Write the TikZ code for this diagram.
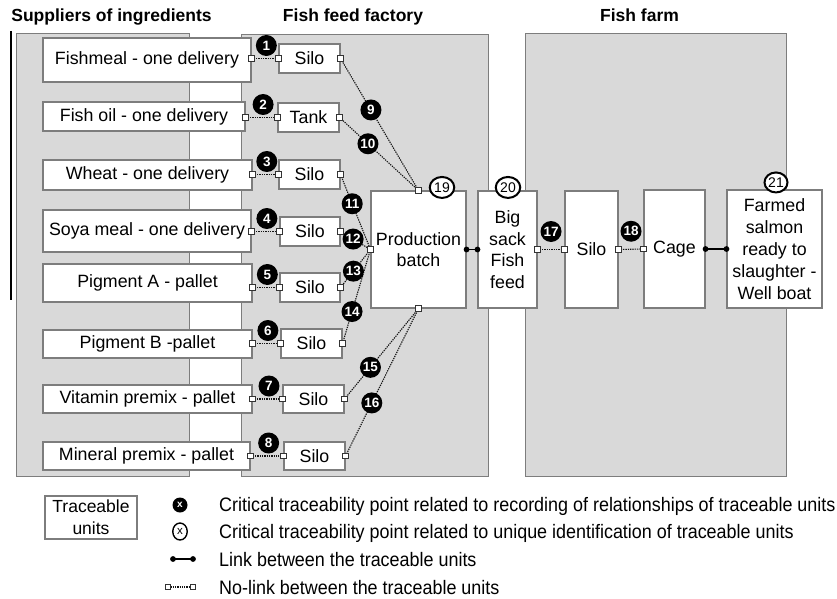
\documentclass[tikz,border=0pt]{standalone}
\usepackage{fontspec}
\setmainfont{Liberation Sans}
\newfontfamily\legendfont{Liberation Sans}[FakeStretch=0.92]
\usetikzlibrary{calc,decorations.markings,shapes.geometric}
\definecolor{panelfill}{RGB}{217,217,217}
\definecolor{edgegray}{RGB}{125,125,125}
\definecolor{dotline}{RGB}{20,20,20}
\tikzset{
  panel/.style={draw=edgegray, line width=0.9pt, fill=panelfill},
  unit/.style={draw=edgegray, line width=1.1pt, fill=white, align=center, inner sep=0pt, font=\fontsize{17.8}{21.5}\selectfont},
  title/.style={font=\bfseries\fontsize{17.5}{20}\selectfont, anchor=base, inner sep=0pt},
  blk/.style={circle, fill=black, text=white, inner sep=0pt, minimum size=21pt, font=\bfseries\fontsize{13.5}{13.5}\selectfont},
  wnum/.style={ellipse, draw=black, line width=2pt, fill=white, inner sep=0pt, minimum width=24.5pt, minimum height=21pt, font=\fontsize{14}{14}\selectfont},
  sqbox/.style={draw=black!80, fill=white, solid, line width=0.8pt},
  nolink/.style={draw=dotline, line width=1.1pt, dash pattern=on 1.3pt off 1pt, decoration={markings,
     mark=at position 0 with {\pgftransformresetnontranslations\draw[sqbox] (-2.7pt,-2.7pt) rectangle (2.7pt,2.7pt);},
     mark=at position 1 with {\pgftransformresetnontranslations\draw[sqbox] (-2.7pt,-2.7pt) rectangle (2.7pt,2.7pt);}},
     postaction={decorate}},
  link/.style={draw=black, line width=1.3pt, decoration={markings,
     mark=at position 0 with {\fill[black] (0pt,0pt) circle (2.9pt);},
     mark=at position 1 with {\fill[black] (0pt,0pt) circle (2.9pt);}},
     postaction={decorate}},
  legtext/.style={anchor=base west, inner sep=0pt, font=\legendfont\fontsize{19.5}{20}\selectfont},
}
\begin{document}
\begin{tikzpicture}[x=1pt,y=-1pt]
\useasboundingbox (0,0) rectangle (837,599);
% titles
\node[title] (t1) at (111.5,22) {Suppliers of ingredients};
\node[title] (t2) at (353,22) {Fish feed factory};
\node[title] (t3) at (639.5,22) {Fish farm};
% panels
\path[panel] (16,33) rectangle (189,476);
\path[panel] (241,34) rectangle (488,476);
\path[panel] (525,33) rectangle (786,476);
\draw[black, line width=1.2pt] (11,31) -- (11,300);
% suppliers
\node[unit, minimum width=208, minimum height=44] (sup1) at (147,60) {Fishmeal - one delivery};
\node[unit, minimum width=202, minimum height=29] (sup2) at (144,116.5) {Fish oil - one delivery};
\node[unit, minimum width=209, minimum height=30] (sup3) at (147.5,175) {Wheat - one delivery};
\node[unit, minimum width=208, minimum height=42] (sup4) at (147,231) {Soya meal - one delivery};
\node[unit, minimum width=209, minimum height=38] (sup5) at (147.5,283) {Pigment A - pallet};
\node[unit, minimum width=209, minimum height=28] (sup6) at (147.5,344) {Pigment B -pallet};
\node[unit, minimum width=209, minimum height=28] (sup7) at (147.5,399) {Vitamin premix - pallet};
\node[unit, minimum width=207, minimum height=28] (sup8) at (146.5,456) {Mineral premix - pallet};
% silos
\node[unit, minimum width=61, minimum height=29] (sil1) at (309.5,58.5) {Silo};
\node[unit, minimum width=61, minimum height=29] (sil2) at (308.5,117.5) {Tank};
\node[unit, minimum width=61, minimum height=29] (sil3) at (309.5,174.5) {Silo};
\node[unit, minimum width=60, minimum height=29] (sil4) at (310,231.5) {Silo};
\node[unit, minimum width=60, minimum height=29] (sil5) at (310,287.5) {Silo};
\node[unit, minimum width=61, minimum height=29] (sil6) at (311.5,343.5) {Silo};
\node[unit, minimum width=61, minimum height=28] (sil7) at (313.5,399) {Silo};
\node[unit, minimum width=61, minimum height=28] (sil8) at (314.5,456) {Silo};
% main chain
\node[unit, minimum width=95, minimum height=117] (prod) at (418.5,249.5) {Production\\batch};
\node[unit, minimum width=59, minimum height=117] (bag) at (507.5,249.5) {Big\\sack\\Fish\\feed};
\node[unit, minimum width=53, minimum height=117] (fsilo) at (591.5,249.5) {Silo};
\node[unit, minimum width=61, minimum height=118] (cage) at (674.5,249) {Cage};
\node[unit, minimum width=95, minimum height=118, font=\fontsize{17.8}{22}\selectfont] (salmon) at (774.5,249) {Farmed\\salmon\\ready to\\slaughter -\\Well boat};
% supplier -> silo links
\foreach \i in {1,...,8}{
  \coordinate (e\i) at (sup\i.east |- sil\i.west);
  \draw[nolink] (e\i) -- (sil\i.west);
  \node[blk] (c\i) at ($(e\i)!0.55!(sil\i.west)+(0,-13)$) {\i};
}
% silo -> production
\draw[nolink] (sil1.east) -- (prod.north);
\draw[nolink] (sil2.east) -- (prod.north);
\draw[nolink] (sil3.east) -- (prod.west);
\draw[nolink] (sil4.east) -- (prod.west);
\draw[nolink] (sil5.east) -- (prod.west);
\draw[nolink] (sil6.east) -- (prod.west);
\draw[nolink] (sil7.east) -- (prod.south);
\draw[nolink] (sil8.east) -- (prod.south);
\node[blk] (c9) at ($(sil1.east)!0.39!(prod.north)$) {9};
\node[blk] (c10) at ($(sil2.east)!0.36!(prod.north)$) {10};
\node[blk] (c11) at ($(sil3.east)!0.39!(prod.west)$) {11};
\node[blk] (c12) at ($(sil4.east)!0.42!(prod.west)$) {12};
\node[blk] (c13) at ($(sil5.east)!0.43!(prod.west)$) {13};
\node[blk] (c14) at ($(sil6.east)!0.34!(prod.west)$) {14};
\node[blk] (c15) at ($(sil7.east)!0.35!(prod.south)$) {15};
\node[blk] (c16) at ($(sil8.east)!0.36!(prod.south)$) {16};
% chain links
\draw[link] (prod.east) -- (bag.west);
\draw[nolink] (bag.east) -- (fsilo.west);
\draw[nolink] (fsilo.east) -- (cage.west);
\draw[link] (cage.east) -- (salmon.west);
\node[blk] (c17) at ($(bag.east)!0.5!(fsilo.west)+(0,-18)$) {17};
\node[blk] (c18) at ($(fsilo.east)!0.5!(cage.west)+(0,-18)$) {18};
\node[wnum] (c19) at ($(prod.north)+(23.5,-3)$) {19};
\node[wnum] (c20) at ($(bag.north)+(0.5,-3)$) {20};
\node[wnum, minimum width=23pt, minimum height=20pt] (c21) at ($(salmon.north)+(1.5,-7)$) {21};
% legend
\node[unit, minimum width=92, minimum height=43, font=\fontsize{17.5}{22}\selectfont] (leg) at (91,517.5) {Traceable\\units};
\node[blk, minimum size=15pt, font=\bfseries\fontsize{10}{10}\selectfont] (lk1) at (180,505) {x};
\node[wnum, minimum width=14.5pt, minimum height=17pt, line width=1.4pt, font=\fontsize{11.5}{11.5}\selectfont] (lk2) at (180,531.5) {x};
\coordinate (l3a) at (173,559);
\coordinate (l3b) at (193,559);
\draw[link] (l3a) -- (l3b);
\coordinate (l4a) at (168,587);
\coordinate (l4b) at (193,587);
\draw[nolink] (l4a) -- (l4b);
\node[legtext] (lt1) at (219,511) {Critical traceability point related to recording of relationships of traceable units};
\node[legtext] (lt2) at (219,538.5) {Critical traceability point related to unique identification of traceable units};
\node[legtext] (lt3) at (219,566) {Link between the traceable units};
\node[legtext] (lt4) at (219,594) {No-link between the traceable units};
\end{tikzpicture}
\end{document}
